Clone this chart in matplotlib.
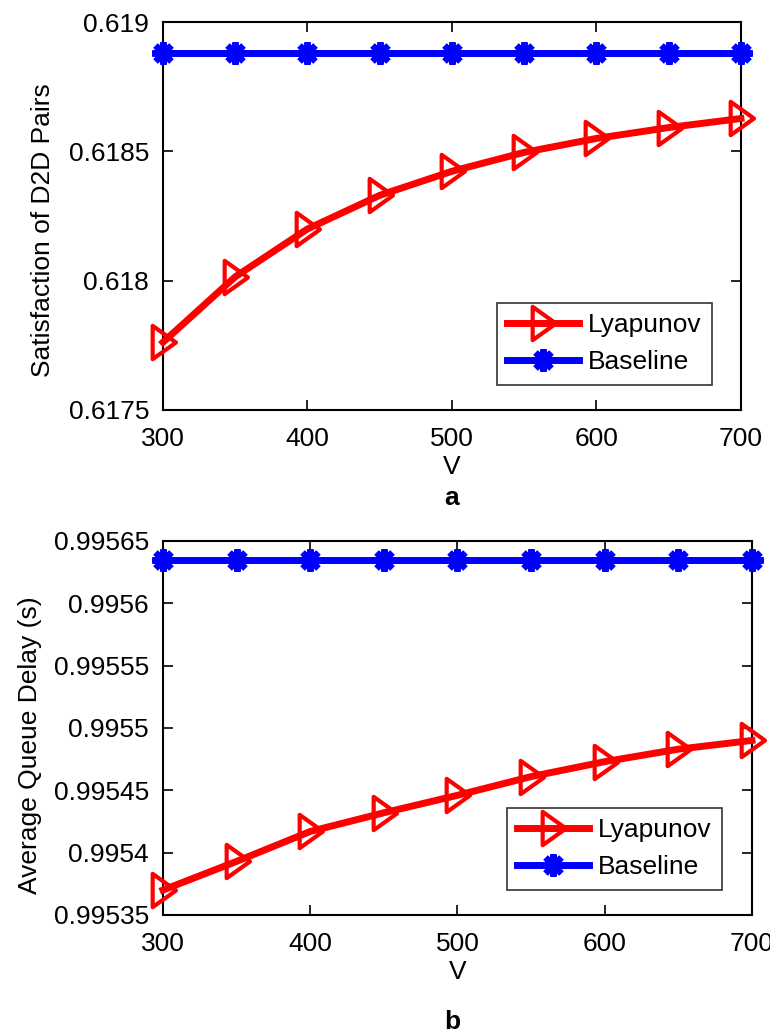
import matplotlib
matplotlib.use("Agg")
import matplotlib.pyplot as plt
from matplotlib.path import Path

plt.rcParams['font.family'] = ['Liberation Sans', 'DejaVu Sans']

V = [300, 350, 400, 450, 500, 550, 600, 650, 700]
sat_lyapunov = [0.617762, 0.618015, 0.618200, 0.618330, 0.618423, 0.618496, 0.618550, 0.618592, 0.618627]
sat_baseline = [0.61888] * 9
delay_lyapunov = [0.995370, 0.995393, 0.995417, 0.995432, 0.995446, 0.995461, 0.995473, 0.995483, 0.995490]
delay_baseline = [0.995635] * 9

sat_ticks = [0.6175, 0.618, 0.6185, 0.619]
sat_ticklabels = ['0.6175', '0.618', '0.6185', '0.619']
delay_ticks = [0.99535, 0.9954, 0.99545, 0.9955, 0.99555, 0.9956, 0.99565]
delay_ticklabels = ['0.99535', '0.9954', '0.99545', '0.9955', '0.99555', '0.9956', '0.99565']
x_ticks = [300, 400, 500, 600, 700]

tri = Path([(-0.65, 1.0), (0.75, 0.0), (-0.65, -1.0), (-0.65, 1.0)],
           [Path.MOVETO, Path.LINETO, Path.LINETO, Path.CLOSEPOLY])

fig = plt.figure(figsize=(7.7, 10.34), dpi=100)
ax1 = fig.add_axes([0.2117, 0.6035, 0.7506, 0.3752])
ax2 = fig.add_axes([0.2117, 0.1151, 0.7649, 0.3617])

FS = 19

def style(ax, LY, BL, ylabel, yticks, yticklabels, ylim, legloc, ylab_xy):
    ax.plot(V, LY, color='red', lw=5, marker=tri, ms=24, mfc='none', mec='red', mew=3,
            label='Lyapunov', clip_on=False, zorder=3)
    ax.plot(V, BL, color='blue', lw=5, marker=(8, 2, 0), ms=16, mec='blue', mew=4.5,
            label='Baseline', clip_on=False, zorder=3)
    ax.set_xlim(300, 700)
    ax.set_ylim(*ylim)
    ax.set_xticks(x_ticks)
    ax.set_yticks(yticks)
    ax.set_yticklabels(yticklabels)
    ax.tick_params(direction='in', length=7, width=1.2, labelsize=FS, top=True, right=True)
    ax.tick_params(axis='x', pad=12)
    ax.tick_params(axis='y', pad=10)
    for s in ax.spines.values():
        s.set_linewidth(1.5)
    ax.set_xlabel('V', fontsize=FS, labelpad=3)
    ax.set_ylabel(ylabel, fontsize=FS)
    ax.yaxis.set_label_coords(*ylab_xy)
    leg = ax.legend(loc='lower right', bbox_to_anchor=legloc, fontsize=FS, frameon=True,
                    fancybox=False, edgecolor='black', handlelength=2.7, borderpad=0.4,
                    labelspacing=0.5, handletextpad=0.35, borderaxespad=0)
    leg.get_frame().set_linewidth(1.2)

style(ax1, sat_lyapunov, sat_baseline, 'Satisfaction of D2D Pairs', sat_ticks, sat_ticklabels,
      (0.6175, 0.619), ((712 - 163) / 578, (410 - 385) / 388), (-0.187, 0.464))
style(ax2, delay_lyapunov, delay_baseline, 'Average Queue Delay (s)', delay_ticks, delay_ticklabels,
      (0.99535, 0.99565), ((722 - 163) / 589, (915 - 890) / 374), (-0.205, 0.455))

fig.text(0.587, 1 - 498/1034, 'a', ha='center', va='center', fontsize=FS, fontweight='bold')
fig.text(0.587, 1 - 1022/1034, 'b', ha='center', va='center', fontsize=FS, fontweight='bold')

fig.savefig('out.png', dpi=100)
